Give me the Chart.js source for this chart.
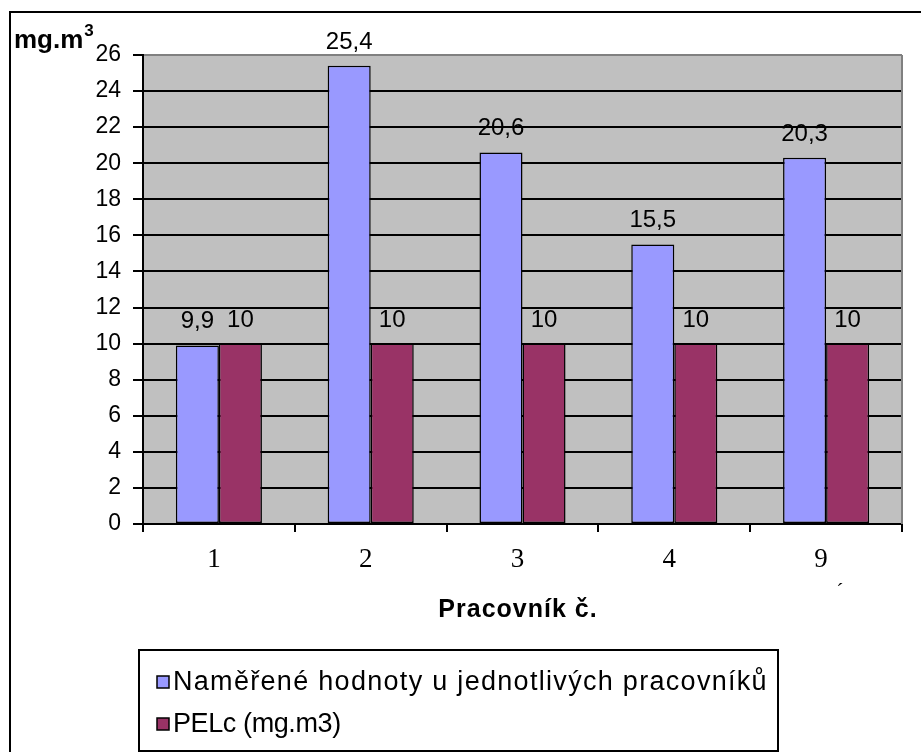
<!DOCTYPE html>
<html>
<head>
<meta charset="utf-8">
<script src="https://cdn.jsdelivr.net/npm/chart.js@4/dist/chart.umd.min.js"></script>
<style>
  html, body { margin: 0; padding: 0; background: #fff; }
  #wrap { width: 921px; height: 752px; }
</style>
</head>
<body>
<div id="wrap"><canvas id="c" width="921" height="752"></canvas></div>
<script>
// Worker IDs and measured dust concentrations
const categories = ['1', '2', '3', '4', '9'];
const measured = [9.9, 25.4, 20.6, 15.5, 20.3];
const limitPEL = [10, 10, 10, 10, 10];
const seriesNames = ['Naměřené hodnoty u jednotlivých pracovníků', 'PELc (mg.m3)'];
const seriesColors = ['#9999FF', '#993366'];
const yMax = 26;
const yStep = 2;
const xTitle = 'Pracovník č.';
const unitLabel = 'mg.m';

const SANS = '"Liberation Sans", Arial, sans-serif';
const SERIF = '"Liberation Serif", "Times New Roman", serif';

const fmt = v => String(v).replace('.', ',');

const decor = {
  id: 'decor',
  beforeDraw(chart) {
    const { ctx, chartArea: a } = chart;
    ctx.save();
    ctx.fillStyle = '#fff';
    ctx.fillRect(0, 0, chart.width, chart.height);
    ctx.fillStyle = '#C0C0C0';
    ctx.fillRect(a.left, a.top, a.right - a.left, a.bottom - a.top);
    ctx.restore();
  },
  afterDatasetsDraw(chart) {
    const { ctx, chartArea: a } = chart;
    ctx.save();
    // right edge of plot area
    ctx.strokeStyle = '#808080';
    ctx.lineWidth = 2;
    ctx.beginPath();
    ctx.moveTo(a.right, a.top);
    ctx.lineTo(a.right, a.bottom);
    ctx.stroke();
    // value labels above bars
    ctx.fillStyle = '#000';
    ctx.font = '24px ' + SANS;
    ctx.textAlign = 'center';
    ctx.textBaseline = 'alphabetic';
    chart.data.datasets.forEach((ds, i) => {
      chart.getDatasetMeta(i).data.forEach((bar, j) => {
        ctx.fillText(fmt(ds.data[j]), bar.x, bar.y - 17);
      });
    });
    ctx.restore();
  },
  afterDraw(chart) {
    const { ctx } = chart;
    ctx.save();
    // outer frame
    ctx.strokeStyle = '#000';
    ctx.lineWidth = 2;
    ctx.beginPath();
    ctx.moveTo(10, chart.height + 2);
    ctx.lineTo(10, 12);
    ctx.lineTo(chart.width + 2, 12);
    ctx.stroke();

    // unit label with superscript
    ctx.fillStyle = '#000';
    ctx.textAlign = 'left';
    ctx.textBaseline = 'alphabetic';
    ctx.font = 'bold 26px ' + SANS;
    ctx.fillText(unitLabel, 14, 48);
    const w = ctx.measureText(unitLabel).width;
    ctx.font = 'bold 17px ' + SANS;
    ctx.fillText('3', 14 + w + 1, 36);

    // x axis title
    ctx.font = 'bold 25px ' + SANS;
    ctx.letterSpacing = '1px';
    ctx.textAlign = 'center';
    ctx.fillText(xTitle, 518, 617);
    ctx.letterSpacing = '0px';

    // small stray accent under the last label
    ctx.font = '22px ' + SERIF;
    ctx.fillText('´', 840, 598);

    // legend box
    ctx.lineWidth = 2;
    ctx.strokeRect(139, 650, 639, 101);
    ctx.font = '27px ' + SANS;
    ctx.textAlign = 'left';
    ctx.textBaseline = 'middle';
    const rows = [682, 724];
    const spacing = ['1.3px', '-0.4px'];
    chart.data.datasets.forEach((ds, i) => {
      const y = rows[i];
      ctx.fillStyle = ds.backgroundColor;
      ctx.fillRect(157, y - 6, 12, 12);
      ctx.lineWidth = 1.5;
      ctx.strokeStyle = '#000';
      ctx.strokeRect(157, y - 6, 12, 12);
      ctx.fillStyle = '#000';
      ctx.letterSpacing = spacing[i];
      ctx.fillText(ds.label, 173, y + 1);
    });
    ctx.letterSpacing = '0px';
    ctx.restore();
  }
};

new Chart(document.getElementById('c'), {
  type: 'bar',
  data: {
    labels: categories,
    datasets: [
      { label: seriesNames[0], data: measured, backgroundColor: seriesColors[0],
        borderColor: '#000', borderWidth: 1.5, borderSkipped: false },
      { label: seriesNames[1], data: limitPEL, backgroundColor: seriesColors[1],
        borderColor: '#000', borderWidth: 1.5, borderSkipped: false }
    ]
  },
  options: {
    responsive: false,
    animation: false,
    devicePixelRatio: 1,
    layout: { padding: { left: 0, top: 55, right: 19, bottom: 0 } },
    datasets: { bar: { categoryPercentage: 0.567, barPercentage: 1.0 } },
    plugins: { legend: { display: false }, tooltip: { enabled: false } },
    scales: {
      x: {
        afterFit(scale) { scale.height = 228; },
        grid: { offset: true, drawOnChartArea: false, drawTicks: true, tickLength: 8,
                color: '#000', lineWidth: 2 },
        border: { display: true, color: '#000', width: 2 },
        ticks: { color: '#000', padding: 12, labelOffset: -5, font: { family: SERIF, size: 27 } }
      },
      y: {
        min: 0, max: yMax,
        afterFit(scale) { scale.width = 143; },
        grid: {
          color: c => (c.tick && c.tick.value === yMax) ? '#808080' : '#000',
          tickColor: '#000', lineWidth: 2, tickLength: 10, drawTicks: true
        },
        border: { display: true, color: '#000', width: 2 },
        ticks: { stepSize: yStep, color: '#000', padding: 12, font: { family: SANS, size: 23 } }
      }
    }
  },
  plugins: [decor]
});
</script>
</body>
</html>
